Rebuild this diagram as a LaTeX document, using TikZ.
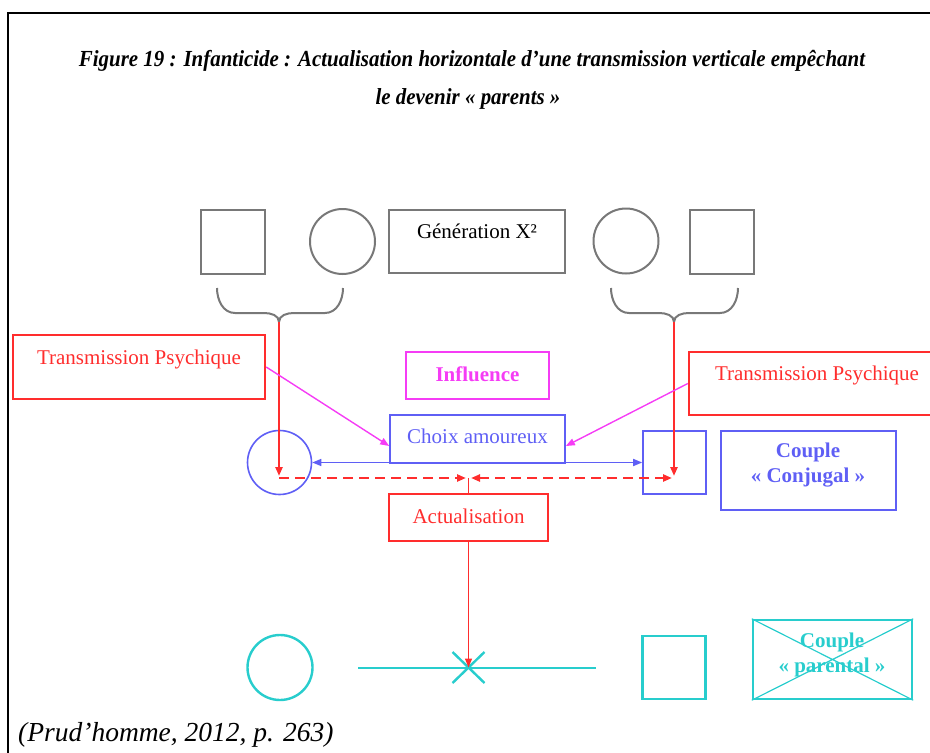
\documentclass[tikz,border=0pt]{standalone}
\usepackage{fontspec}
\setmainfont{Liberation Serif}
\newfontfamily\titlefont{Liberation Serif}[FakeStretch=0.91]
\usetikzlibrary{arrows.meta}
\definecolor{kingray}{RGB}{120,120,120}
\definecolor{psyred}{RGB}{255,45,45}
\definecolor{conjblue}{RGB}{95,95,245}
\definecolor{inflmag}{RGB}{245,60,245}
\definecolor{parcyan}{RGB}{40,205,205}
\tikzset{every node/.style={draw=none,inner sep=0pt,font=\fontsize{21}{25}\selectfont},
  kin/.style={draw=kingray,line width=2pt},
  psy/.style={draw=psyred,line width=2.4pt},
  conj/.style={draw=conjblue,line width=1.6pt},
  infl/.style={draw=inflmag,line width=1.4pt},
  par/.style={draw=parcyan,line width=2.4pt},
  headed/.style={-{Triangle[length=9pt,width=7pt]}},
  twoheaded/.style={{Triangle[length=9pt,width=7pt]}-{Triangle[length=9pt,width=7pt]}}}

\begin{document}
\begin{tikzpicture}[x=1pt,y=-1pt]
\useasboundingbox (0,0) rectangle (930,753);
\draw[line width=1.8pt] (8,770) -- (8,13) -- (945,13);

      \node[anchor=base] (title1) at (472,66) {\titlefont\bfseries\itshape\fontsize{23}{27}\selectfont Figure 19 : Infanticide : Actualisation horizontale d’une transmission verticale empêchant};
      \node[anchor=base] (title2) at (468,104) {\titlefont\bfseries\itshape\fontsize{23}{27}\selectfont le devenir « parents »};

      % generation X2
      \node[kin,minimum size=64pt] (gf1) at (232.5,241.5) {};
      \node[kin,circle,minimum size=65pt] (gm1) at (342.5,241.5) {};
      \node[kin,minimum width=176pt,minimum height=63pt] (gen) at (477,241.5) {};
      \node[anchor=base] (gentxt) at (477,238) {Génération X²};
      \node[kin,circle,minimum size=65pt] (gm2) at (626,241) {};
      \node[kin,minimum size=64pt] (gf2) at (721.5,241.5) {};
      \coordinate (bl) at (279,322);
      \coordinate (br) at (674,322);

      % couple conjugal
      \node[conj,circle,minimum size=64pt] (cc) at (279.5,462.5) {};
      \node[conj,minimum size=63pt] (cs) at (674.5,462.5) {};
      \node[conj,minimum width=175pt,minimum height=48pt] (choix) at (477.5,439) {};
      \node[text=conjblue] (choixtxt) at (477.5,436) {Choix amoureux};
      \node[conj,minimum width=175pt,minimum height=79pt] (conjbox) at (808.5,470.5) {};
      \node[text=conjblue,font=\fontsize{21}{25}\selectfont\bfseries,align=center] (conjtxt) at (808,465) {Couple\\« Conjugal »};
      \node[infl,minimum width=143pt,minimum height=47pt] (infl) at (477.5,375.5) {};
      \node[text=inflmag,font=\fontsize{21}{25}\selectfont\bfseries] (infltxt) at (477.5,374) {Influence};

      % transmission
      \node[psy,minimum width=252pt,minimum height=64pt] (tpl) at (139,367) {};
      \node[anchor=base,text=psyred] (tpltxt) at (139,364) {Transmission Psychique};
      \node[psy,minimum width=246pt,minimum height=63pt] (tpr) at (812,383.5) {};
      \node[anchor=base,text=psyred] (tprtxt) at (817,380) {Transmission Psychique};
      \node[psy,minimum width=159pt,minimum height=47pt] (act) at (468.5,517.5) {};
      \node[text=psyred] (acttxt) at (468.5,516) {Actualisation};
      \coordinate (lt) at (279,476);
      \coordinate (rt) at (674,476);

      % couple parental
      \node[par,circle,minimum size=65pt] (pc) at (280,667.5) {};
      \node[par,minimum size=63pt] (ps) at (674,667.5) {};
      \node[par,minimum width=159pt,minimum height=79pt] (parbox) at (832.5,659.5) {};
      \draw[parcyan,line width=1.2pt] (parbox.north west) -- (parbox.south east)
        (parbox.south west) -- (parbox.north east);
      \node[text=parcyan,font=\fontsize{21}{25}\selectfont\bfseries,align=center] (partxt) at (832,655) {Couple\\« parental »};
      \coordinate (xc) at (468.5,667.5);
      \draw[parcyan,line width=1.8pt] (358,668) -- (596,668);
      \draw[parcyan,line width=2.4pt] (452.5,652) -- (484.5,683) (452.5,683) -- (484.5,652);

      \node[anchor=base west] (cite) at (18,741) {\fontsize{27.5}{32}\selectfont\itshape (Prud’homme, 2012, p. 263)};

\draw[kin] (217,288) to[out=-90,in=180] (235,313) -- (264,313) to[out=0,in=90] (bl)
  to[out=90,in=180] (294,313) -- (325,313) to[out=0,in=-90] (343,288);
\draw[kin] (611,288) to[out=-90,in=180] (629,313) -- (659,313) to[out=0,in=90] (br)
  to[out=90,in=180] (689,313) -- (720,313) to[out=0,in=-90] (738,288);
\foreach \a/\b in {bl/lt,br/rt}
  \draw[psy,headed] (\a) -- (\b);
\draw[psy,dashed,dash pattern=on 10pt off 6pt,headed] (279,478) -- (466,478);
\draw[psy,dashed,dash pattern=on 10pt off 6pt,twoheaded] (471,478) -- (672,478);
\draw[psyred,line width=1.2pt] (act.north) -- (468.5,478);
\draw[psyred,line width=1.2pt,headed] (act.south) -- (xc);
\draw[conj,twoheaded] (cc.east) -- (cs.west);
\draw[infl,headed] (tpl.east) -- ([yshift=-7pt]choix.west);
\draw[infl,headed] (tpr.west) -- ([yshift=-7pt]choix.east);
    \end{tikzpicture}
\end{document}
